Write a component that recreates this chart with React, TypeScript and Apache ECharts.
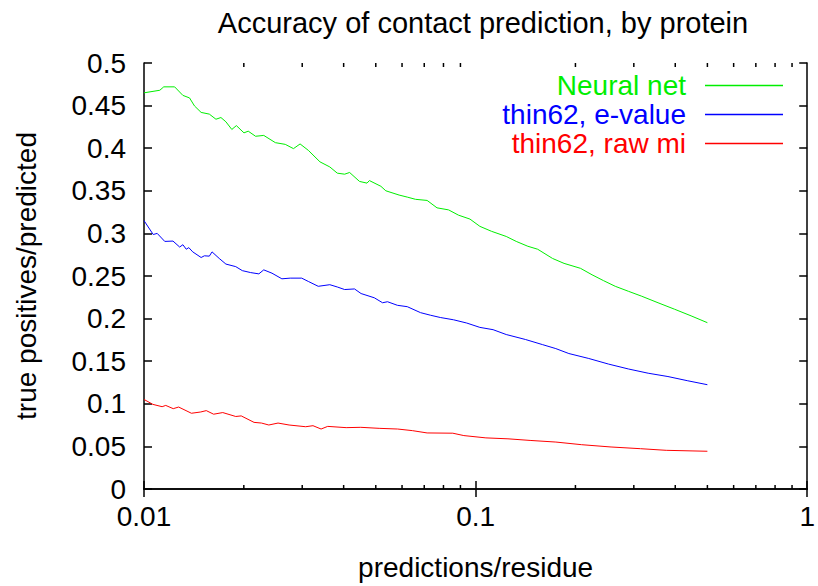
import React, { useEffect, useRef } from "react";
import * as echarts from "echarts";

const TITLE = "Accuracy of contact prediction, by protein";
const X_NAME = "predictions/residue";
const Y_NAME = "true positives/predicted";

const seriesNames = ["Neural net", "thin62, e-value", "thin62, raw mi"];
const seriesColors = ["#00ee00", "#0000ff", "#ff0000"];

const nnX = [0.01, 0.01116, 0.01147, 0.01237, 0.0131, 0.01372, 0.0142, 0.01487, 0.01574, 0.01648, 0.01706, 0.01766, 0.0184, 0.01899, 0.02002, 0.02062, 0.0217, 0.02297, 0.0249, 0.02667, 0.02823, 0.02956, 0.0313, 0.03393, 0.03634, 0.03828, 0.04028, 0.04169, 0.04466, 0.04704, 0.04783, 0.0518, 0.05362, 0.05879, 0.06223, 0.06589, 0.07141, 0.07649, 0.08288, 0.08881, 0.09616, 0.103, 0.1116, 0.1237, 0.1326, 0.1437, 0.1539, 0.1706, 0.1848, 0.2072, 0.2245, 0.2432, 0.2637, 0.2888, 0.3167, 0.3549, 0.3981, 0.4466, 0.5];
const nnY = [0.465, 0.468, 0.472, 0.472, 0.462, 0.459, 0.4496, 0.442, 0.44, 0.434, 0.436, 0.431, 0.422, 0.4265, 0.418, 0.42, 0.414, 0.415, 0.4065, 0.4045, 0.3995, 0.405, 0.3975, 0.384, 0.378, 0.3707, 0.3695, 0.3715, 0.361, 0.359, 0.362, 0.3553, 0.35, 0.345, 0.3426, 0.34, 0.3387, 0.33, 0.3276, 0.3214, 0.3168, 0.3083, 0.3025, 0.2964, 0.2906, 0.2849, 0.2814, 0.2706, 0.2648, 0.259, 0.2514, 0.2445, 0.2379, 0.2321, 0.2263, 0.2186, 0.211, 0.2032, 0.1952];

const evX = [0.01, 0.01066, 0.01096, 0.01155, 0.01223, 0.01281, 0.0131, 0.01341, 0.01365, 0.01403, 0.01487, 0.01521, 0.01574, 0.01604, 0.01686, 0.01766, 0.01891, 0.01979, 0.02097, 0.0222, 0.02297, 0.02432, 0.02605, 0.0276, 0.02989, 0.0313, 0.03353, 0.03634, 0.03828, 0.04028, 0.04314, 0.04515, 0.0495, 0.05241, 0.05424, 0.0581, 0.06223, 0.0682, 0.07304, 0.07825, 0.08579, 0.094, 0.103, 0.1129, 0.1237, 0.1413, 0.1593, 0.1745, 0.1911, 0.2194, 0.2518, 0.2888, 0.3314, 0.3802, 0.4364, 0.5];
const evY = [0.315, 0.2987, 0.3, 0.2906, 0.291, 0.284, 0.2867, 0.2814, 0.2833, 0.2783, 0.2717, 0.2737, 0.2733, 0.2783, 0.2706, 0.264, 0.261, 0.2563, 0.254, 0.2525, 0.2572, 0.2533, 0.2467, 0.2475, 0.2475, 0.2436, 0.2379, 0.2398, 0.2371, 0.2341, 0.2348, 0.2294, 0.2244, 0.2186, 0.2198, 0.2156, 0.214, 0.207, 0.204, 0.2013, 0.1986, 0.1948, 0.1897, 0.187, 0.1813, 0.1755, 0.1694, 0.1648, 0.159, 0.1532, 0.1466, 0.1409, 0.1359, 0.132, 0.127, 0.1224];

const miX = [0.01, 0.01064, 0.01134, 0.01163, 0.01225, 0.01272, 0.0139, 0.01483, 0.01541, 0.01622, 0.01728, 0.01891, 0.01964, 0.02147, 0.02261, 0.02379, 0.02536, 0.02739, 0.03073, 0.03233, 0.0342, 0.03581, 0.0407, 0.04505, 0.05119, 0.05818, 0.06447, 0.07141, 0.08535, 0.09215, 0.1074, 0.1252, 0.146, 0.1746, 0.2088, 0.2561, 0.3143, 0.3757, 0.4494, 0.5];
const miY = [0.1051, 0.0993, 0.0966, 0.0981, 0.0943, 0.0962, 0.0889, 0.0904, 0.092, 0.0878, 0.0897, 0.0851, 0.0858, 0.0782, 0.0774, 0.0751, 0.0774, 0.0751, 0.0731, 0.0743, 0.0704, 0.0735, 0.072, 0.0724, 0.0712, 0.0704, 0.0685, 0.0658, 0.0655, 0.0627, 0.06, 0.0589, 0.057, 0.0551, 0.052, 0.0493, 0.0473, 0.0454, 0.0447, 0.0443];

const xMinorTicks = [0.02, 0.03, 0.04, 0.05, 0.06, 0.07, 0.08, 0.09, 0.2, 0.3, 0.4, 0.5, 0.6, 0.7, 0.8, 0.9];
const yMin = 0;
const yMax = 0.5;
const yStep = 0.05;
const xMin = 0.01;
const xMax = 1;

const FONT = "Liberation Sans";
const FS = 28;

export default function App() {
  const ref = useRef<HTMLDivElement>(null);
  useEffect(() => {
    if (!ref.current) return;
    const chart = echarts.init(ref.current, null, { renderer: "svg" });
    const xs = [nnX, evX, miX];
    const ys = [nnY, evY, miY];
    const axisLine = { show: true, lineStyle: { color: "#000", width: 1.5 } };
    const tick = { show: true, inside: true, length: 8, lineStyle: { color: "#000", width: 1.5 } };
    const lineSeries = seriesNames.map((name, i) => ({
      name,
      type: "line",
      xAxisIndex: 0,
      yAxisIndex: 0,
      data: xs[i].map((x, j) => [x, ys[i][j]]),
      showSymbol: false,
      symbol: "none",
      lineStyle: { color: seriesColors[i], width: 1 },
      itemStyle: { color: seriesColors[i] },
      z: 3,
    }));
    chart.setOption({
      animation: false,
      backgroundColor: "#fff",
      textStyle: { fontFamily: FONT },
      title: {
        text: TITLE,
        left: 478,
        top: 3,
        textAlign: "center",
        textStyle: { fontFamily: FONT, fontSize: 29, fontWeight: "normal", color: "#000" },
      },
      grid: { left: 144, right: 7, top: 63, bottom: 90, containLabel: false },
      legend: {
        orient: "vertical",
        right: 35,
        top: 71,
        padding: 0,
        itemGap: 0,
        itemWidth: 78,
        itemHeight: 1.5,
        align: "right",
        selectedMode: false,
        data: seriesNames.map((n, i) => ({
          name: n,
          icon: "rect",
          itemStyle: { color: seriesColors[i], borderWidth: 0 },
          textStyle: { color: seriesColors[i] },
        })),
        textStyle: { fontFamily: FONT, fontSize: FS, lineHeight: 29, padding: [0, 14, 0, 0] },
      },
      xAxis: [
        {
          type: "log",
          logBase: 10,
          min: xMin,
          max: xMax,
          position: "bottom",
          axisLine,
          axisTick: tick,
          splitLine: { show: false },
          axisLabel: {
            fontFamily: FONT,
            fontSize: FS,
            color: "#000",
            margin: 13,
            formatter: (v: number) => String(+v.toPrecision(3)),
          },
          name: X_NAME,
          nameLocation: "middle",
          nameGap: 64,
          nameTextStyle: { fontFamily: FONT, fontSize: FS, color: "#000" },
        },
        {
          type: "log",
          logBase: 10,
          min: xMin,
          max: xMax,
          position: "top",
          axisLine,
          axisTick: tick,
          splitLine: { show: false },
          axisLabel: { show: false },
        },
      ],
      yAxis: [
        {
          type: "value",
          min: yMin,
          max: yMax,
          interval: yStep,
          position: "left",
          axisLine,
          axisTick: tick,
          splitLine: { show: false },
          axisLabel: {
            fontFamily: FONT,
            fontSize: FS,
            color: "#000",
            margin: 18,
            formatter: (v: number) => String(+v.toFixed(2)),
          },
          name: Y_NAME,
          nameLocation: "middle",
          nameRotate: 90,
          nameGap: 104,
          nameTextStyle: { fontFamily: FONT, fontSize: FS, color: "#000" },
        },
        {
          type: "value",
          min: yMin,
          max: yMax,
          interval: yStep,
          position: "right",
          axisLine,
          axisTick: tick,
          splitLine: { show: false },
          axisLabel: { show: false },
        },
      ],
      series: [
        ...lineSeries,
        {
          type: "custom",
          name: "minorTicks",
          xAxisIndex: 0,
          yAxisIndex: 0,
          silent: true,
          clip: false,
          data: xMinorTicks.map((v) => [v]),
          encode: { x: 0 },
          renderItem: (_p: any, api: any) => {
            const v = api.value(0);
            const b = api.coord([v, yMin]);
            const t = api.coord([v, yMax]);
            const st = { stroke: "#000", lineWidth: 1.5 };
            return {
              type: "group",
              children: [
                { type: "line", shape: { x1: b[0], y1: b[1], x2: b[0], y2: b[1] - 4 }, style: st },
                { type: "line", shape: { x1: t[0], y1: t[1], x2: t[0], y2: t[1] + 4 }, style: st },
              ],
            };
          },
        },
      ],
    });
    return () => chart.dispose();
  }, []);
  return <div ref={ref} style={{ width: 818, height: 586, position: "absolute", left: 0, top: 0 }} />;
}
